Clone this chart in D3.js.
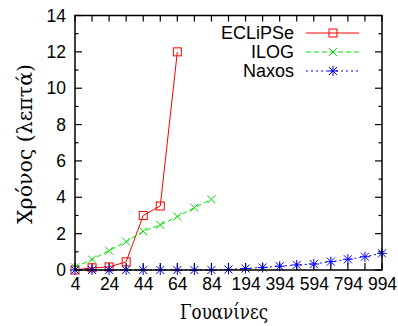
<!DOCTYPE html>
<html>
<head>
<meta charset="utf-8">
<script src="https://cdn.jsdelivr.net/npm/d3@7"></script>
<style>
  body { margin: 0; background: #fff; }
  svg text { font-family: "Liberation Sans", Arial, sans-serif; }
</style>
</head>
<body>
<div id="chart"></div>
<script>
// guanine counts along the x axis (evenly spaced categories)
const categories = [4, 14, 24, 34, 44, 54, 64, 74, 84, 94, 194, 294, 394, 494, 594, 694, 794, 894, 994];
const tickLabels = [4, 24, 44, 64, 84, 194, 394, 594, 794, 994];
const yTicks = [0, 2, 4, 6, 8, 10, 12, 14];

// minutes per solver
const eclipse = [0, 0.12, 0.17, 0.45, 3.0, 3.52, 12.0];
const ilog = [0.15, 0.58, 1.06, 1.56, 2.13, 2.48, 2.94, 3.43, 3.89];
const naxos = [0, 0, 0, 0, 0, 0, 0, 0, 0, 0.03, 0.08, 0.14, 0.21, 0.28, 0.33, 0.46, 0.59, 0.73, 0.92];

const series = [
  { name: "ECLiPSe", values: eclipse, color: "#ff0000", dash: null, marker: "square" },
  { name: "ILOG", values: ilog, color: "#00e000", dash: "5,3", marker: "cross" },
  { name: "Naxos", values: naxos, color: "#0000ff", dash: "2,3", marker: "star" }
];

const W = 398, H = 326;
const plotLeft = 75, plotRight = 382, plotTop = 15.5, plotBottom = 270;

const svg = d3.select("#chart").append("svg")
  .attr("width", W).attr("height", H);

const x = d3.scalePoint()
  .domain(d3.range(categories.length))
  .range([plotLeft, plotRight]);

const y = d3.scaleLinear()
  .domain([0, 14])
  .range([plotBottom, plotTop]);

// ticks: every category on top/bottom, every unit on left/right
const g = svg.append("g");
d3.range(categories.length).forEach(i => {
  g.append("line").attr("x1", x(i)).attr("x2", x(i)).attr("y1", plotBottom).attr("y2", plotBottom - 7)
    .attr("stroke", "#000").attr("stroke-width", 1.2);
  g.append("line").attr("x1", x(i)).attr("x2", x(i)).attr("y1", plotTop).attr("y2", plotTop + 6)
    .attr("stroke", "#000").attr("stroke-width", 1.2);
});
d3.range(0, 15).forEach(v => {
  const len = v % 2 === 0 ? 7 : 3.5;
  g.append("line").attr("x1", plotLeft).attr("x2", plotLeft + len).attr("y1", y(v)).attr("y2", y(v))
    .attr("stroke", "#000").attr("stroke-width", 1.2);
  g.append("line").attr("x1", plotRight).attr("x2", plotRight - len).attr("y1", y(v)).attr("y2", y(v))
    .attr("stroke", "#000").attr("stroke-width", 1.2);
});

// tick labels
const xAxis = d3.axisBottom(x)
  .tickValues(tickLabels.map(t => categories.indexOf(t)))
  .tickFormat(i => categories[i])
  .tickSize(0).tickPadding(0);
svg.append("g")
  .attr("transform", "translate(0," + (plotBottom + 8) + ")")
  .call(xAxis)
  .call(a => a.select(".domain").remove())
  .selectAll("text")
  .attr("font-family", "Liberation Sans, Arial, sans-serif")
  .attr("font-size", 17.5).attr("fill", "#000")
  .attr("dy", "0.71em");

const yAxis = d3.axisLeft(y).tickValues(yTicks).tickSize(0).tickPadding(0);
svg.append("g")
  .attr("transform", "translate(" + (plotLeft - 9) + ",0)")
  .call(yAxis)
  .call(a => a.select(".domain").remove())
  .selectAll("text")
  .attr("font-family", "Liberation Sans, Arial, sans-serif")
  .attr("font-size", 17.5).attr("fill", "#000");

// axis titles
svg.append("text")
  .attr("x", 224).attr("y", 319)
  .attr("text-anchor", "middle")
  .attr("textLength", 88).attr("lengthAdjust", "spacingAndGlyphs")
  .style("font-family", "DejaVu Serif, Liberation Serif, serif")
  .style("font-size", "20px")
  .text("Γουανίνες");

svg.append("text")
  .attr("transform", "translate(32,144) rotate(-90)")
  .attr("text-anchor", "middle")
  .attr("textLength", 160).attr("lengthAdjust", "spacingAndGlyphs")
  .style("font-family", "DejaVu Serif, Liberation Serif, serif")
  .style("font-size", "20px")
  .text("Χρόνος (λεπτά)");

function drawMarker(sel, type, color) {
  if (type === "square") {
    sel.append("rect").attr("x", -4).attr("y", -4).attr("width", 8).attr("height", 8)
      .attr("fill", "none").attr("stroke", color).attr("stroke-width", 1);
  } else if (type === "cross") {
    sel.append("path").attr("d", "M-4,-4L4,4M-4,4L4,-4")
      .attr("stroke", color).attr("stroke-width", 1);
  } else {
    sel.append("path").attr("d", "M-4,-4L4,4M-4,4L4,-4M-5,0L5,0M0,-5L0,5")
      .attr("stroke", color).attr("stroke-width", 1);
  }
}

const line = d3.line()
  .x((d, i) => x(i))
  .y(d => y(d));

series.forEach(s => {
  svg.append("path")
    .datum(s.values)
    .attr("d", line)
    .attr("fill", "none")
    .attr("stroke", s.color)
    .attr("stroke-width", 1)
    .attr("stroke-dasharray", s.dash);
  s.values.forEach((v, i) => {
    const m = svg.append("g").attr("transform", "translate(" + x(i) + "," + y(v) + ")");
    drawMarker(m, s.marker, s.color);
  });
});

// frame
svg.append("rect")
  .attr("x", plotLeft).attr("y", plotTop)
  .attr("width", plotRight - plotLeft).attr("height", plotBottom - plotTop)
  .attr("fill", "none").attr("stroke", "#000").attr("stroke-width", 1.5);

// legend
series.forEach((s, k) => {
  const ly = 33 + k * 19;
  svg.append("text")
    .attr("x", 294).attr("y", ly)
    .attr("dy", "0.35em")
    .attr("text-anchor", "end")
    .attr("font-size", 18)
    .text(s.name);
  svg.append("line")
    .attr("x1", 306).attr("x2", 359).attr("y1", ly).attr("y2", ly)
    .attr("stroke", s.color).attr("stroke-width", 1)
    .attr("stroke-dasharray", s.dash);
  const m = svg.append("g").attr("transform", "translate(333," + ly + ")");
  drawMarker(m, s.marker, s.color);
});
</script>
</body>
</html>
